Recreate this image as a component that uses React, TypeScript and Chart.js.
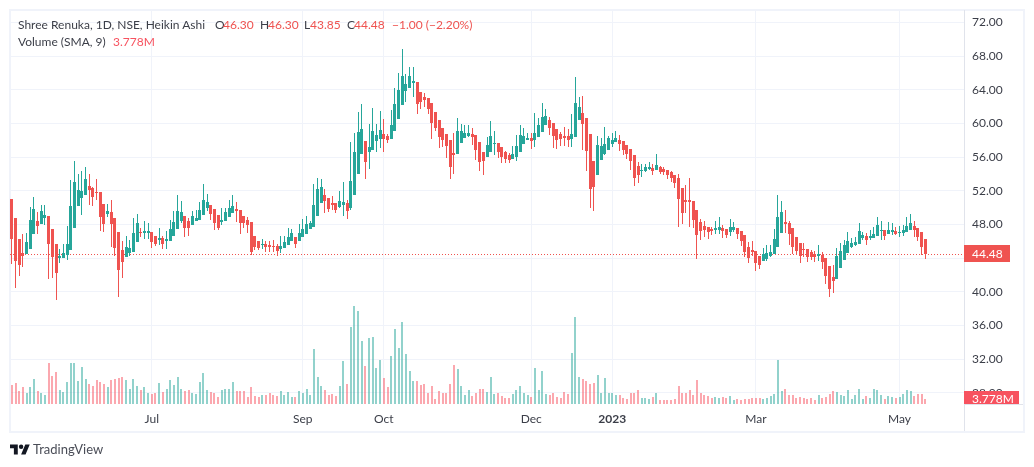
import { useEffect, useRef } from "react";
import Chart from "chart.js/auto";

const monthLabels = ["Jul", "Sep", "Oct", "Dec", "2023", "Mar", "May"];
const monthSlots = [38, 79, 101, 141, 163, 202, 241];
const slotCount = 259;

const opens = [
  50.97,48.71,46.22,44.67,44.48,45.03,46.85,48.36,48.00,48.71,
  48.95,47.41,45.74,43.96,43.96,44.32,44.91,47.53,50.14,51.09,
  51.45,52.51,52.28,51.80,51.80,50.38,49.19,49.43,48.71,47.05,
  44.91,44.08,44.67,44.79,45.86,47.05,46.93,46.93,47.05,46.58,
  46.10,46.34,45.98,45.98,46.69,47.41,48.36,48.95,48.36,47.88,
  48.36,48.59,49.07,49.90,50.26,49.78,49.07,48.24,48.36,48.83,
  49.31,49.78,49.67,48.95,48.59,48.24,46.58,45.98,45.55,45.66,
  45.55,45.43,45.43,45.07,45.19,45.55,46.02,46.50,46.02,46.50,
  46.85,47.45,47.68,49.01,50.54,51.49,51.13,50.54,50.54,50.06,
  50.30,50.54,49.94,51.49,53.98,56.36,57.90,56.59,56.83,57.90,
  58.14,58.73,58.50,58.14,59.09,60.51,62.18,63.84,64.20,64.79,
  64.91,63.72,63.13,63.01,62.42,61.35,60.40,59.45,58.73,58.02,
  56.48,56.36,57.66,58.26,58.50,58.73,58.61,57.78,56.59,56.00,
  56.59,57.54,57.66,57.19,56.59,56.24,55.81,56.04,56.64,57.59,
  58.06,58.30,58.06,58.42,59.01,59.85,60.44,60.08,59.37,58.78,
  58.54,58.54,58.18,58.42,60.44,61.27,60.68,58.78,55.57,53.90,
  55.69,56.40,56.87,57.59,57.83,58.06,57.94,57.47,56.99,56.28,
  54.97,54.38,54.38,54.62,54.74,54.50,54.86,54.62,54.50,54.26,
  53.90,53.55,52.36,50.93,50.93,50.82,49.75,48.32,47.85,47.73,
  47.49,47.37,47.37,47.61,47.49,47.13,47.37,47.61,47.25,46.77,
  45.35,45.00,44.87,44.28,43.69,43.92,44.28,44.52,45.35,47.01,
  48.32,48.20,47.61,46.54,45.82,45.11,45.11,44.76,44.52,44.28,
  44.40,44.04,43.09,41.79,41.55,42.85,43.80,44.64,45.35,45.59,
  45.71,46.42,46.66,46.42,46.42,46.66,47.25,47.37,46.89,47.13,
  47.25,47.01,47.01,47.13,47.37,47.84,47.61,47.13,46.30,
];

const closes = [
  46.26,43.64,43.17,44.20,45.86,48.59,49.78,47.76,49.55,49.07,
  45.74,44.08,42.18,44.20,44.67,45.74,50.14,52.99,52.04,51.92,
  53.35,52.04,51.21,51.68,48.83,48.00,49.55,48.00,45.15,42.65,
  43.49,45.27,45.15,46.93,48.12,46.93,47.17,47.17,45.86,45.74,
  46.34,45.74,46.22,47.41,48.24,49.55,49.43,47.64,47.64,48.95,
  48.71,49.67,50.85,50.61,49.19,48.12,47.64,48.59,49.43,49.90,
  50.14,49.55,48.12,48.12,47.88,44.79,45.27,45.15,45.66,45.31,
  45.31,45.31,44.83,45.43,45.90,46.50,46.97,45.66,46.97,47.45,
  48.04,48.16,50.30,52.20,52.44,50.77,49.82,50.30,49.70,50.77,
  50.65,49.59,53.15,56.59,58.97,59.33,55.41,57.19,59.09,58.61,
  59.21,58.14,58.02,59.80,62.30,63.96,65.62,64.67,65.62,65.03,
  62.30,62.53,62.77,61.70,60.04,59.45,58.38,58.02,57.31,54.81,
  56.24,59.09,59.09,58.85,58.85,58.38,56.83,55.41,55.53,57.43,
  58.50,57.66,56.59,56.00,55.76,55.64,56.40,57.35,58.66,58.54,
  58.30,57.94,58.89,59.85,60.80,60.91,59.49,58.54,58.06,58.18,
  58.30,58.06,58.78,62.46,61.98,59.96,56.76,52.24,52.48,57.47,
  57.35,57.59,58.30,58.06,58.30,57.59,56.87,56.40,55.57,53.55,
  53.90,54.50,54.86,54.86,54.38,55.09,54.26,54.26,53.90,53.55,
  52.95,51.05,49.39,50.70,50.70,48.56,46.78,47.25,47.37,47.13,
  47.25,47.61,47.73,47.25,46.78,47.73,47.73,46.90,46.06,44.76,
  44.04,44.76,43.45,43.21,44.52,44.64,44.76,46.30,48.91,49.51,
  48.08,46.89,45.35,44.87,44.28,45.00,44.16,44.16,44.16,44.52,
  43.57,41.90,40.36,41.31,44.28,44.87,45.59,46.06,45.82,45.94,
  47.25,46.77,46.18,46.66,46.89,47.96,47.37,46.66,47.37,47.37,
  46.89,47.13,47.37,47.84,48.20,47.37,46.54,45.35,44.48,
];

const highs = [
  50.97,48.71,46.22,46.81,46.93,50.02,51.21,49.43,50.26,50.26,
  48.95,47.41,45.74,45.03,45.74,47.76,53.23,55.49,53.94,54.30,
  54.77,53.94,52.40,53.35,51.80,50.38,50.38,50.85,48.71,47.05,
  45.98,46.69,46.10,48.71,49.19,47.64,48.36,48.12,47.05,46.58,
  47.53,46.69,47.17,48.48,49.55,51.45,50.73,48.95,48.71,49.55,
  49.67,50.61,52.75,51.57,50.26,49.78,49.07,49.90,49.90,50.85,
  51.45,50.61,49.67,48.95,48.83,48.24,46.58,45.98,46.26,46.02,
  46.02,46.14,45.66,46.62,46.62,47.57,47.45,46.50,48.04,48.63,
  49.01,48.40,52.79,53.51,53.39,52.20,51.13,51.37,50.54,51.96,
  53.03,50.89,57.78,58.85,61.35,62.30,57.90,59.92,61.82,59.92,
  61.47,60.51,58.73,61.58,64.20,65.98,68.83,65.86,66.69,66.69,
  64.91,63.72,63.60,63.01,62.42,61.35,60.40,59.45,58.73,58.02,
  58.85,60.63,59.92,59.80,59.80,59.45,58.61,57.78,56.59,58.38,
  60.28,59.09,57.66,57.19,56.71,56.48,57.35,58.66,59.85,59.49,
  58.89,58.89,61.27,60.68,62.46,61.75,60.80,60.08,59.37,59.01,
  59.61,59.37,61.15,65.55,63.17,63.29,60.68,58.78,55.57,58.54,
  58.30,59.61,58.54,58.89,59.13,58.66,57.94,57.47,56.99,56.28,
  55.45,55.21,55.21,55.45,55.21,56.40,54.97,54.86,54.50,54.38,
  53.90,54.02,52.36,52.72,53.55,50.82,49.75,48.68,48.44,47.73,
  47.73,48.44,48.91,47.97,47.49,48.68,48.32,47.61,47.25,46.77,
  45.94,46.06,44.87,44.28,45.23,45.59,45.59,47.49,51.53,50.81,
  49.74,48.44,47.61,46.54,45.82,45.82,45.11,45.00,44.87,45.59,
  44.76,44.04,43.09,43.21,45.23,45.82,46.18,47.13,46.42,46.54,
  48.20,47.13,47.01,47.37,47.73,48.91,48.44,47.37,48.32,48.20,
  47.73,47.84,47.96,48.91,49.27,48.44,47.61,47.13,46.30,
];

const lows = [
  43.25,40.44,41.86,42.93,44.48,45.03,46.85,46.85,48.00,47.88,
  41.51,41.59,39.01,43.37,43.96,43.84,44.91,47.53,50.14,49.07,
  51.45,50.26,50.14,50.85,47.17,47.05,48.83,45.27,44.20,39.33,
  41.59,44.08,44.20,44.79,45.86,46.46,46.22,46.22,45.15,45.39,
  45.51,45.03,45.03,45.98,46.69,47.41,48.12,46.46,46.69,47.88,
  48.36,48.59,49.07,49.55,48.59,47.29,47.29,47.88,48.36,48.83,
  49.31,48.24,46.81,47.53,46.93,44.32,44.91,44.91,45.07,44.71,
  44.71,44.71,44.24,44.60,45.19,45.55,46.02,45.19,46.02,46.50,
  46.85,47.45,47.68,49.01,50.54,49.35,49.47,49.70,49.35,49.94,
  49.01,48.63,49.70,51.49,53.98,56.36,53.39,54.57,56.83,56.59,
  57.07,56.59,57.66,58.14,59.09,60.51,62.18,62.53,64.20,63.13,
  61.11,61.70,61.94,61.11,58.14,59.09,57.07,57.19,55.88,53.39,
  53.98,56.36,57.66,58.26,58.38,57.43,55.64,54.34,53.86,56.00,
  56.59,56.24,55.88,55.29,55.29,55.29,55.81,55.57,56.64,57.59,
  58.06,56.99,57.23,58.42,59.01,59.85,58.66,57.11,56.99,57.35,
  57.35,57.23,57.23,58.42,60.44,56.87,54.38,49.98,49.63,53.90,
  55.69,56.28,56.87,57.23,57.83,56.76,56.28,55.81,54.50,52.60,
  52.95,53.67,54.26,54.50,53.90,54.50,54.02,53.90,53.43,53.07,
  52.36,47.73,48.08,49.39,47.73,47.61,43.93,46.18,46.54,46.30,
  46.78,46.90,46.90,46.42,46.42,46.66,47.13,46.30,45.47,44.16,
  43.45,44.28,42.50,42.74,43.69,43.69,44.16,44.52,45.35,47.01,
  47.01,45.59,44.52,44.40,43.45,44.16,43.57,43.80,43.57,43.69,
  42.74,40.95,39.41,39.88,41.55,42.85,43.80,44.64,45.23,45.47,
  45.71,46.18,45.59,46.18,46.42,46.66,46.18,46.18,46.89,46.77,
  46.77,46.54,46.66,47.13,47.37,46.54,46.06,44.40,43.85,
];

// volume in millions
const volumes = [
  14.25,15.75,9.75,12.75,8.25,12.75,18.75,9.75,8.25,6.75,
  30.75,21,24,10.5,9,16.5,30.75,30.75,17.25,27.75,
  18.75,15,13.5,18,16.5,15,12.75,18,18.75,19.5,
  20.25,18,11.25,18.75,13.5,10.5,12.75,8.25,7.5,8.25,
  15.75,9,11.25,18,14.25,20.25,11.25,9.75,10.5,8.25,
  7.5,16.5,23.25,10.5,9,8.25,5.25,10.5,11.25,11.25,
  16.5,9.75,9.75,9.75,5.25,12.75,6,5.25,6.75,6.75,
  8.25,6.75,6,9.75,6.75,9,5.25,5.25,9.75,8.25,
  11.25,6.75,41.25,20.25,13.5,10.5,6.75,7.5,6,13.5,
  32.25,15,57.75,73.5,69.75,47.25,28.5,49.5,50.25,27,
  33,19.5,12.75,36,56.25,42,61.5,37.5,24.75,17.25,
  17.25,14.25,15,8.25,13.5,3.75,9.75,8.25,8.25,15,
  29.25,26.25,13.5,6.75,10.5,6,8.25,11.25,11.25,9,
  20.25,7.5,8.25,6,4.5,4.5,7.5,10.5,13.5,8.25,
  6.75,5.25,27,10.5,24.75,7.5,6.75,8.25,5.25,4.5,
  9,7.5,38.25,65.25,20.25,18.75,17.25,15,15.75,21.75,
  8.25,19.5,8.25,8.25,6.75,6.75,4.5,3.75,8.25,8.25,
  10.5,4.5,4.5,3.75,5.25,8.25,3,3,3,3,
  3.75,13.5,8.25,8.25,10.5,6.75,18,8.25,6.75,6,
  4.5,5.25,4.5,5.25,4.5,6,3,3.75,3,3.75,
  3.75,4.5,4.5,4.5,3.75,4.5,6,7.5,33,9.75,
  11.25,6.75,6.75,4.5,5.25,4.5,3.75,4.5,3,6.75,
  4.5,5.25,7.5,9.75,9,6.75,6,10.5,3.75,6.75,
  11.25,3.75,6,4.5,11.25,10.5,6.75,3.75,6,5.25,
  4.5,5.25,7.5,10.5,9.75,6,7.5,7.5,3.778,
];

const labels = Array.from({ length: slotCount }, (_, i) => {
  const at = monthSlots.indexOf(i);
  return at >= 0 ? monthLabels[at] : "";
});

const UP = "#26a69a";
const DOWN = "#ef5350";
const VOL_DOWN = "#f7525f";
const GRID = "#f0f3fa";
const EDGE = "#e0e3eb";
const TEXT = "#3b3e48";
const FONT = 'Lato, sans-serif';

// keeps thin bars on whole pixels, the way the original renders them
const snapBars = {
  id: "snapBars",
  beforeDatasetsDraw(chart: any) {
    chart.data.datasets.forEach((ds: any, i: number) => {
      const odd = ds.barThickness % 2 === 1;
      chart.getDatasetMeta(i).data.forEach((el: any) => {
        el.x = odd ? Math.floor(el.x) + 0.5 : Math.round(el.x);
        el.y = Math.round(el.y);
        el.base = Math.round(el.base);
      });
    });
  },
};

const lastClose = closes[closes.length - 1];
const lastVolume = volumes[volumes.length - 1];

const priceLine = {
  id: "priceLine",
  beforeDatasetsDraw(chart: any) {
    const { ctx, chartArea, scales } = chart;
    const y = Math.floor(scales.y.getPixelForValue(lastClose)) + 0.5;
    ctx.save();
    ctx.strokeStyle = DOWN;
    ctx.lineWidth = 1;
    ctx.setLineDash([1, 2]);
    ctx.beginPath();
    ctx.moveTo(chartArea.left, y);
    ctx.lineTo(chartArea.right, y);
    ctx.stroke();
    ctx.restore();
  },
};

const axisBoxes = {
  id: "axisBoxes",
  afterDraw(chart: any) {
    const { ctx, chartArea, scales, width } = chart;
    const { right, bottom } = chartArea;
    ctx.save();
    ctx.strokeStyle = EDGE;
    ctx.lineWidth = 1;
    ctx.beginPath();
    ctx.moveTo(right + 0.5, bottom);
    ctx.lineTo(right + 0.5, 431);
    ctx.moveTo(right, bottom + 0.5);
    ctx.lineTo(width - 11, bottom + 0.5);
    ctx.stroke();

    const y = Math.round(scales.y.getPixelForValue(lastClose));
    ctx.fillStyle = DOWN;
    ctx.fillRect(right, y - 9, 46, 17);
    ctx.fillStyle = "#ffffff";
    ctx.font = `12px ${FONT}`;
    ctx.textBaseline = "middle";
    ctx.fillText(lastClose.toFixed(2), right + 8, y);

    const boxTop = Math.round(scales.yVol.getPixelForValue(lastVolume)) - 8;
    ctx.fillStyle = VOL_DOWN;
    ctx.fillRect(right, boxTop, 55, bottom - boxTop);
    ctx.beginPath();
    ctx.rect(right, boxTop, 55, bottom - boxTop);
    ctx.clip();
    ctx.fillStyle = "#ffffff";
    ctx.fillText(`${lastVolume.toFixed(3)}M`, right + 8, boxTop + 8);
    ctx.restore();
  },
};

function Piece({ x, y, color, children }: any) {
  return (
    <span style={{ position: "absolute", left: x, top: y, color, whiteSpace: "nowrap" }}>{children}</span>
  );
}

export default function App() {
  const ref = useRef<HTMLCanvasElement | null>(null);

  useEffect(() => {
    if (!ref.current) return;
    const chart = new Chart(ref.current, {
      type: "bar",
      data: {
        labels,
        datasets: [
          {
            label: "Volume",
            data: volumes,
            yAxisID: "yVol",
            grouped: false,
            order: 3,
            barThickness: 2,
            inflateAmount: 0,
            backgroundColor: volumes.map((_, i) =>
              closes[i] >= opens[i] ? "rgba(38,166,154,0.5)" : "rgba(247,82,95,0.5)"
            ),
          },
          {
            label: "Wick",
            data: lows.map((l, i) => [l, highs[i]]),
            yAxisID: "y",
            grouped: false,
            order: 2,
            barThickness: 1,
            inflateAmount: 0,
            backgroundColor: closes.map((c, i) => (c >= opens[i] ? UP : DOWN)),
          },
          {
            label: "Body",
            data: opens.map((o, i) => [o, closes[i]]),
            yAxisID: "y",
            grouped: false,
            order: 1,
            barThickness: 3,
            inflateAmount: 0,
            backgroundColor: closes.map((c, i) => (c >= opens[i] ? UP : DOWN)),
          },
        ],
      },
      options: {
        responsive: false,
        animation: false,
        layout: { padding: { left: 10, top: 10, right: 11, bottom: 36 } },
        plugins: { legend: { display: false }, tooltip: { enabled: false } },
        scales: {
          x: {
            offset: true,
            grid: { color: GRID, offset: false, drawTicks: false },
            border: { display: false },
            afterBuildTicks: (scale: any) => {
              scale.ticks = scale.ticks.filter((t: any) => labels[t.value] !== "");
            },
            afterFit: (scale: any) => {
              scale.height = 27;
              scale.paddingLeft = 0;
              scale.paddingRight = 0;
            },
            ticks: {
              autoSkip: false,
              maxRotation: 0,
              padding: 8,
              color: TEXT,
              font: (ctx: any) => ({
                family: FONT,
                size: 12,
                weight: ctx.tick && ctx.tick.label === "2023" ? "bold" : "normal",
              }),
            },
          },
          y: {
            position: "right",
            min: 26.68,
            max: 73.47,
            grid: { color: GRID, drawTicks: false },
            border: { color: EDGE },
            afterFit: (scale: any) => {
              scale.width = 59;
              scale.paddingTop = 0;
              scale.paddingBottom = 0;
            },
            ticks: {
              stepSize: 4,
              includeBounds: false,
              padding: 8,
              color: TEXT,
              font: { family: FONT, size: 12 },
              callback: (v: any) => Number(v).toFixed(2),
            },
          },
          yVol: { display: false, min: 0, max: 295.5 },
        },
      },
      plugins: [snapBars, priceLine, axisBoxes],
    });
    return () => chart.destroy();
  }, []);

  return (
    <div style={{ position: "absolute", left: 0, top: 0, width: 1034, height: 467, background: "#fff", overflow: "hidden", fontFamily: FONT, fontSize: 12, lineHeight: "16px" }}>
      <div style={{ position: "absolute", left: 9, top: 9, width: 1012, height: 420, border: `2px solid ${GRID}` }} />
      <canvas ref={ref} width={1034} height={467} style={{ position: "absolute", left: 0, top: 0 }} />
      <Piece x={18} y={17} color={TEXT}>Shree Renuka, 1D, NSE, Heikin Ashi</Piece>
      <Piece x={215} y={17} color={TEXT}>O</Piece>
      <Piece x={223} y={17} color={DOWN}>46.30</Piece>
      <Piece x={260} y={17} color={TEXT}>H</Piece>
      <Piece x={268} y={17} color={DOWN}>46.30</Piece>
      <Piece x={304} y={17} color={TEXT}>L</Piece>
      <Piece x={310} y={17} color={DOWN}>43.85</Piece>
      <Piece x={347} y={17} color={TEXT}>C</Piece>
      <Piece x={354} y={17} color={DOWN}>44.48</Piece>
      <Piece x={392} y={17} color={DOWN}>−1.00 (−2.20%)</Piece>
      <Piece x={18} y={34} color={TEXT}>Volume (SMA, 9)</Piece>
      <Piece x={113} y={34} color={VOL_DOWN}>3.778M</Piece>
      <svg style={{ position: "absolute", left: 10, top: 442 }} width="20" height="16" viewBox="0 0 36 28">
        <path d="M14 22H7V11H0V4h14v18ZM28 22h-8l7.5-18h8L28 22Z" fill="#131722" />
        <circle cx="20" cy="8" r="4" fill="#131722" />
      </svg>
      <Piece x={33} y={441} color="#4a4d57">
        <span style={{ fontSize: 13 }}>TradingView</span>
      </Piece>
    </div>
  );
}
